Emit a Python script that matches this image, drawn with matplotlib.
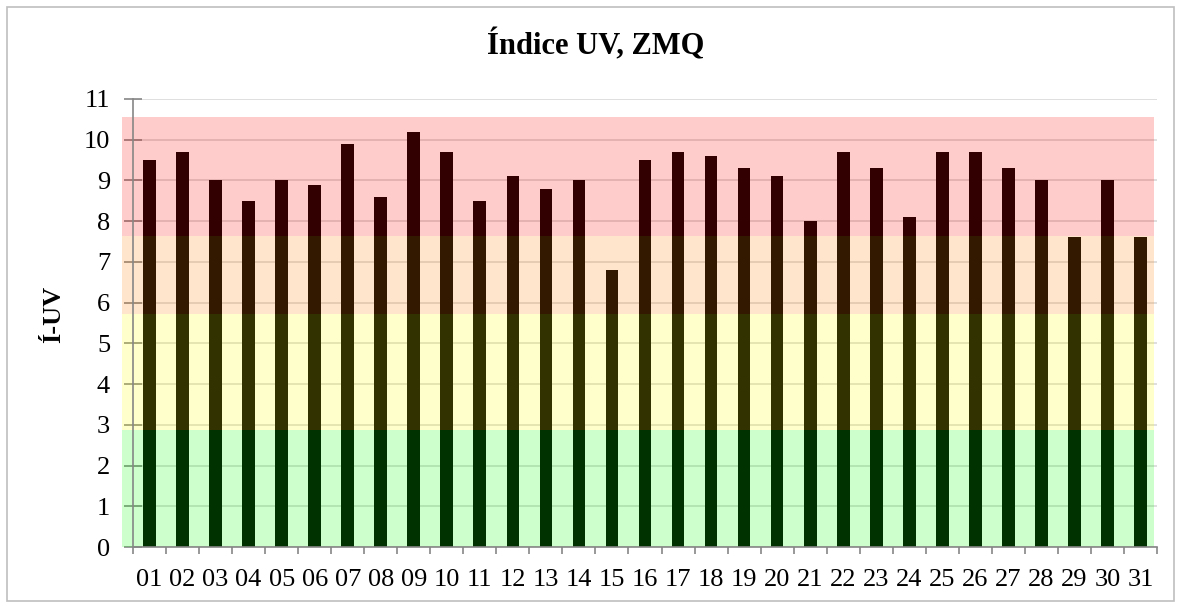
import matplotlib.pyplot as plt
import numpy as np

# datos del indice UV por dia
dias = ['%02d' % d for d in range(1, 32)]
indice_uv = [9.5, 9.7, 9.0, 8.5, 9.0, 8.9, 9.9, 8.6, 10.2, 9.7, 8.5, 9.1, 8.8, 9.0, 6.8, 9.5,
             9.7, 9.6, 9.3, 9.1, 8.0, 9.7, 9.3, 8.1, 9.7, 9.7, 9.3, 9.0, 7.6, 9.0, 7.6]

# franjas de riesgo (limite inferior, limite superior)
franjas_lim = [(0, 2.87), (2.87, 5.72), (5.72, 7.64), (7.64, 10.55)]
franjas_col = ['#00ff00', '#ffff00', '#ff8000', '#ff0000']

plt.rcParams['font.family'] = ['Liberation Serif', 'DejaVu Serif']

fig = plt.figure(figsize=(11.81, 6.08), dpi=100)
ax = fig.add_axes([0.1126, 0.1003, 0.9797 - 0.1126, 0.8372 - 0.1003])

x = np.arange(len(dias))
ax.set_axisbelow(True)
ax.yaxis.grid(True, color='#d9d9d9', linewidth=1.2)
ax.bar(x, indice_uv, width=0.385, color='black', zorder=2)

# bandas de color translucidas encima de las barras
for (y0, y1), c in zip(franjas_lim, franjas_col):
    ax.bar(-0.83, y1 - y0, bottom=y0, width=31.24, align='edge', color=c,
           alpha=0.2, linewidth=0, zorder=3, clip_on=False)

ax.set_xlim(-0.5, 30.5)
ax.set_ylim(0, 11)
ax.set_yticks(range(0, 12))
ax.set_xticks(x)
ax.set_xticklabels(dias)
ax.set_xticks(np.arange(-0.5, 31, 1), minor=True)
ax.tick_params(axis='x', which='major', length=0, labelsize=19, pad=16)
ax.tick_params(axis='x', which='minor', length=5, width=1.2, color='#868686', direction='out')
ax.tick_params(axis='y', length=13, width=1.2, color='#868686', direction='inout',
               labelsize=19, pad=10)

for s in ['top', 'right']:
    ax.spines[s].set_visible(False)
for s in ['left', 'bottom']:
    ax.spines[s].set_color('#868686')
    ax.spines[s].set_linewidth(1.2)
    ax.spines[s].set_zorder(4)

ax.set_ylabel('Í-UV', fontsize=19, fontweight='bold')
ax.yaxis.set_label_coords(-0.066, 0.52)
fig.text(0.504, 0.925, 'Índice UV, ZMQ', ha='center', va='center', fontsize=22, fontweight='bold')

# marco del grafico
marco = plt.Rectangle((0.006, 0.012), 0.988, 0.976, transform=fig.transFigure,
                      fill=False, edgecolor='#bfbfbf', linewidth=1.2)
fig.patches.append(marco)

fig.savefig('out.png', dpi=100)
